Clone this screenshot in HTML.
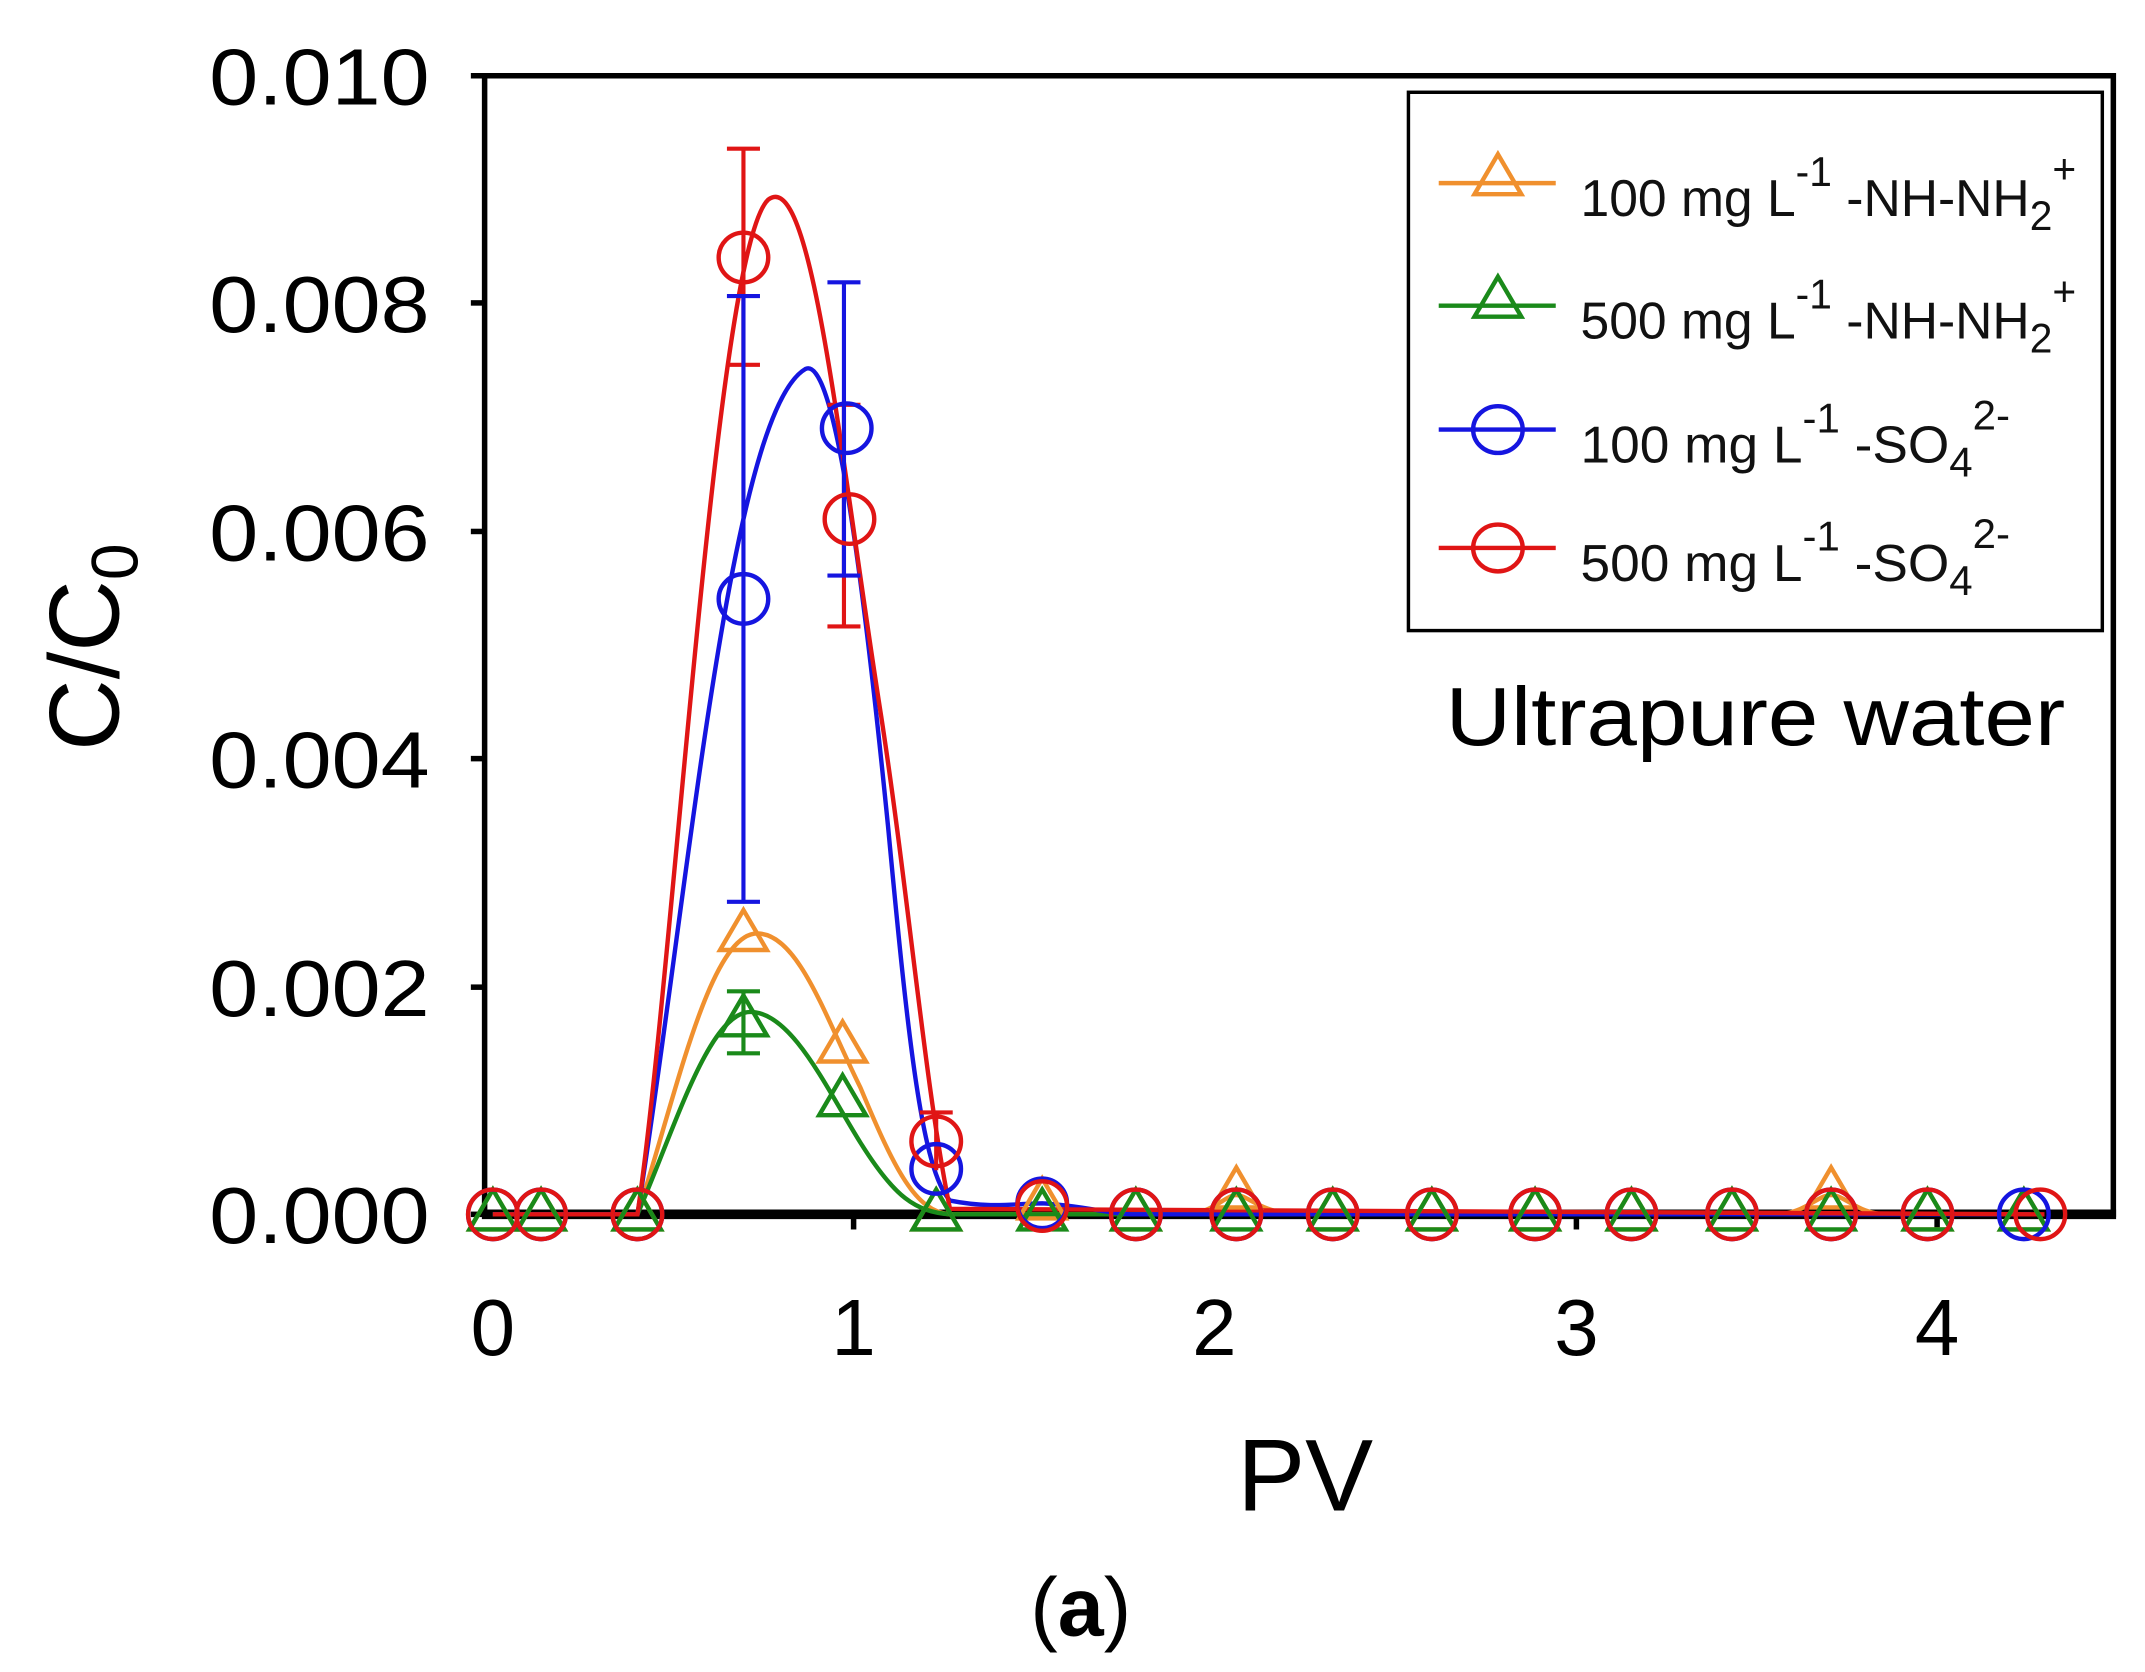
<!DOCTYPE html>
<html><head><meta charset="utf-8"><style>
html,body{margin:0;padding:0;background:#fff;}
svg{display:block;}
text{font-family:"Liberation Sans",sans-serif;}
</style></head><body>
<svg id="s" width="2145" height="1672" viewBox="0 0 1558 1214.4" xmlns="http://www.w3.org/2000/svg">
<rect width="1558" height="1215" fill="#fff"/>
<rect x="352" y="55" width="1183" height="827" fill="none" stroke="#000" stroke-width="4"/>
<line x1="350" y1="882" x2="1537" y2="882" stroke="#000" stroke-width="7"/>
<g stroke="#000" stroke-width="4">
<line x1="342" y1="55" x2="352" y2="55"/><line x1="342" y1="220" x2="352" y2="220"/><line x1="342" y1="386" x2="352" y2="386"/><line x1="342" y1="551" x2="352" y2="551"/><line x1="342" y1="717" x2="352" y2="717"/><line x1="342" y1="882" x2="352" y2="882"/>
<line x1="620" y1="882" x2="620" y2="893"/><line x1="882" y1="882" x2="882" y2="893"/><line x1="1145" y1="882" x2="1145" y2="893"/><line x1="1407" y1="882" x2="1407" y2="893"/>
</g>
<g font-size="58" fill="#000" lengthAdjust="spacingAndGlyphs">
<text x="152" y="76" textLength="160" lengthAdjust="spacingAndGlyphs">0.010</text>
<text x="152" y="241" textLength="160" lengthAdjust="spacingAndGlyphs">0.008</text>
<text x="152" y="407" textLength="160" lengthAdjust="spacingAndGlyphs">0.006</text>
<text x="152" y="572" textLength="160" lengthAdjust="spacingAndGlyphs">0.004</text>
<text x="152" y="738" textLength="160" lengthAdjust="spacingAndGlyphs">0.002</text>
<text x="152" y="903" textLength="160" lengthAdjust="spacingAndGlyphs">0.000</text>
</g>
<g font-size="58" text-anchor="middle" fill="#000">
<text x="358" y="984">0</text><text x="620" y="984">1</text><text x="882" y="984">2</text><text x="1145" y="984">3</text><text x="1407" y="984">4</text>
</g>
<text x="948" y="1097" font-size="74" text-anchor="middle">PV</text>
<text transform="translate(86,470) rotate(-90)" font-size="72" text-anchor="middle">C/C<tspan font-size="48" dy="14">0</tspan></text>
<text x="1050" y="541" font-size="60" textLength="450" lengthAdjust="spacingAndGlyphs">Ultrapure water</text>
<text x="785" y="1188" font-size="60" text-anchor="middle" font-family="Liberation Serif,serif">(<tspan font-weight="bold">a</tspan>)</text>

<g fill="none" stroke-width="3.2">
<path stroke="#F0902E" d="M358,882 L463,882 C490,800 515,678 550,678 C580,678 600,740 625,790 C650,850 665,880 690,882 L860,882 C880,882 890,868 898,868 C906,868 915,880 940,882 L1290,882 C1310,882 1320,868 1330,868 C1340,868 1350,882 1370,882 L1475,882"/>
<path stroke="#1A8A1A" d="M358,882 L463,882 C490,820 515,735 545,735 C575,735 600,790 625,830 C650,870 665,880 690,882 L1475,882"/>
<path stroke="#1515E0" d="M358,882 L463,882 C500,650 530,300 585,268 C605,258 625,400 645,600 C660,760 670,850 690,872 C720,878 740,874 757,874 C790,876 805,882 825,882 L1475,882"/>
<path stroke="#E01515" d="M358,882 L463,882 C490,700 520,180 558,145 C590,120 610,330 640,520 C660,650 672,790 690,878 L1485,882"/>
</g>
<g stroke-width="3">
<g stroke="#E01515"><line x1="540" y1="108" x2="540" y2="265"/><line x1="528" y1="108" x2="552" y2="108"/><line x1="528" y1="265" x2="552" y2="265"/>
<line x1="613" y1="294" x2="613" y2="455"/><line x1="601" y1="294" x2="625" y2="294"/><line x1="601" y1="455" x2="625" y2="455"/>
<line x1="680" y1="808" x2="680" y2="850"/><line x1="668" y1="808" x2="692" y2="808"/></g>
<g stroke="#1515E0"><line x1="540" y1="215" x2="540" y2="655"/><line x1="528" y1="215" x2="552" y2="215"/><line x1="528" y1="655" x2="552" y2="655"/>
<line x1="613" y1="205" x2="613" y2="418"/><line x1="601" y1="205" x2="625" y2="205"/><line x1="601" y1="418" x2="625" y2="418"/></g>
<g stroke="#1A8A1A"><line x1="540" y1="720" x2="540" y2="765"/><line x1="528" y1="720" x2="552" y2="720"/><line x1="528" y1="765" x2="552" y2="765"/></g>
</g>
<g id="m" fill="none" stroke-width="3.2"></g>

<rect x="1023" y="67" width="504" height="391" fill="#fff" stroke="#000" stroke-width="2.5"/>
<g stroke-width="3.2" fill="none">
<line x1="1045" y1="133" x2="1130" y2="133" stroke="#F0902E"/><path d="M1088,112 L1105,141 L1071,141 Z" stroke="#F0902E"/>
<line x1="1045" y1="222" x2="1130" y2="222" stroke="#1A8A1A"/><path d="M1088,201 L1105,230 L1071,230 Z" stroke="#1A8A1A"/>
<line x1="1045" y1="312" x2="1130" y2="312" stroke="#1515E0"/><ellipse cx="1088" cy="312" rx="18" ry="17" stroke="#1515E0"/>
<line x1="1045" y1="398" x2="1130" y2="398" stroke="#E01515"/><ellipse cx="1088" cy="398" rx="18" ry="17" stroke="#E01515"/>
</g>
<g font-size="38" fill="#111">
<text x="1148" y="157" textLength="360" lengthAdjust="spacingAndGlyphs">100 mg L<tspan font-size="30" dy="-22">-1</tspan><tspan dy="22"> -NH-NH</tspan><tspan font-size="30" dy="10">2</tspan><tspan font-size="30" dy="-34">+</tspan></text>
<text x="1148" y="246" textLength="360" lengthAdjust="spacingAndGlyphs">500 mg L<tspan font-size="30" dy="-22">-1</tspan><tspan dy="22"> -NH-NH</tspan><tspan font-size="30" dy="10">2</tspan><tspan font-size="30" dy="-34">+</tspan></text>
<text x="1148" y="336" textLength="312" lengthAdjust="spacingAndGlyphs">100 mg L<tspan font-size="30" dy="-22">-1</tspan><tspan dy="22"> -SO</tspan><tspan font-size="30" dy="10">4</tspan><tspan font-size="30" dy="-34">2-</tspan></text>
<text x="1148" y="422" textLength="312" lengthAdjust="spacingAndGlyphs">500 mg L<tspan font-size="30" dy="-22">-1</tspan><tspan dy="22"> -SO</tspan><tspan font-size="30" dy="10">4</tspan><tspan font-size="30" dy="-34">2-</tspan></text>
</g>
</svg>
<script>
var g=document.getElementById('m'),NS='http://www.w3.org/2000/svg';
var xs=[358,393,463,540,612,680,757,825,898,968,1040,1115,1185,1258,1330,1400,1470];
function tri(x,y,c){var p=document.createElementNS(NS,'path');p.setAttribute('d','M'+x+','+(y-18)+' L'+(x+17)+','+(y+11)+' L'+(x-17)+','+(y+11)+' Z');p.setAttribute('stroke',c);g.appendChild(p);}
function cir(x,y,c){var e=document.createElementNS(NS,'ellipse');e.setAttribute('cx',x);e.setAttribute('cy',y);e.setAttribute('rx',18);e.setAttribute('ry',18);e.setAttribute('stroke',c);g.appendChild(e);}
var O={540:679,612:760,680:882,898:866,1330:866,757:874},G={540:741,612:799,680:882},B={540:435,612:311,680:849,757:874},R={540:187,612:377,680:829,757:876};
xs.forEach(function(x){tri(x,O[x]||882,'#F0902E');});
xs.forEach(function(x){tri(x,G[x]||882,'#1A8A1A');});
xs.forEach(function(x){cir(x+(x==612?3:0),B[x]||882,'#1515E0');});
xs.forEach(function(x){cir(x+(x==612?5:(x==1470?12:0)),R[x]||882,'#E01515');});
</script>
</body></html>
